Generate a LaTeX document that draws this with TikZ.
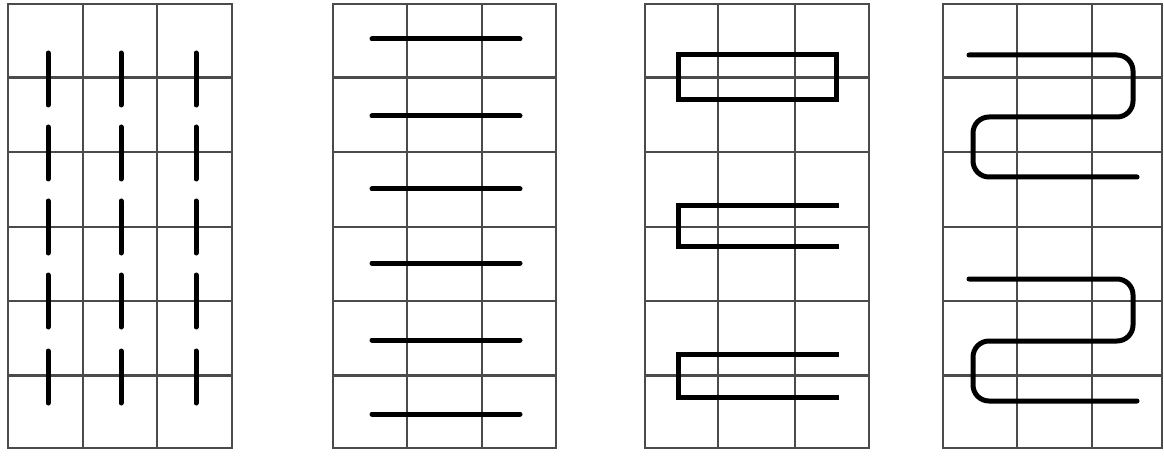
\documentclass[tikz,border=0pt]{standalone}
\begin{document}
\begin{tikzpicture}[x=1pt,y=-1pt,
  gridline/.style={draw={rgb,255:red,75;green,75;blue,75}, line width=2.2pt},
  stroke/.style={draw=black, line width=5pt},
  rstroke/.style={stroke, line cap=round}]
\useasboundingbox (0,0) rectangle (1164,457);
\fill[white] (0,0) rectangle (1164,457);
% grids: x0, c1, c2, x1
\foreach \xa/\xb/\xc/\xd in {8/83/157/232, 333/407/482/556, 645/718/795/869, 943/1017/1092/1162}{
  \foreach \yy in {77.5,152,227,301,375.5}
    \draw[gridline] (\xa,\yy) -- (\xd,\yy);
  \draw[gridline] (\xb,4) -- (\xb,448);
  \draw[gridline] (\xc,4) -- (\xc,448);
  \draw[gridline, line width=2.6pt] (\xa,4) rectangle (\xd,448);
}
% grid 1: vertical dashes centred on row lines
\foreach \x in {48,121,196}
  \foreach \yy in {79,153,227,301,377}
    \draw[rstroke] (\x,\yy-26) -- (\x,\yy+26);
% grid 2: horizontal bars
\foreach \yy in {39,116,189,263,340,414}
  \draw[rstroke] (372,\yy) -- (520,\yy);
% grid 3: closed rectangle and two open loops
\draw[stroke] (678,55) rectangle (836,100);
\draw[stroke, line join=miter] (839,206) -- (678,206) -- (678,246) -- (839,246);
\draw[stroke, line join=miter] (839,354) -- (678,354) -- (678,397) -- (839,397);
% grid 4: serpentine strokes
\foreach \dy in {0,224}
  \draw[stroke, rounded corners=16pt, line cap=round]
    (969,55+\dy) -- (1133,55+\dy) -- (1133,117+\dy) -- (973,117+\dy)
    -- (973,177+\dy) -- (1137,177+\dy);
\end{tikzpicture}
\end{document}
